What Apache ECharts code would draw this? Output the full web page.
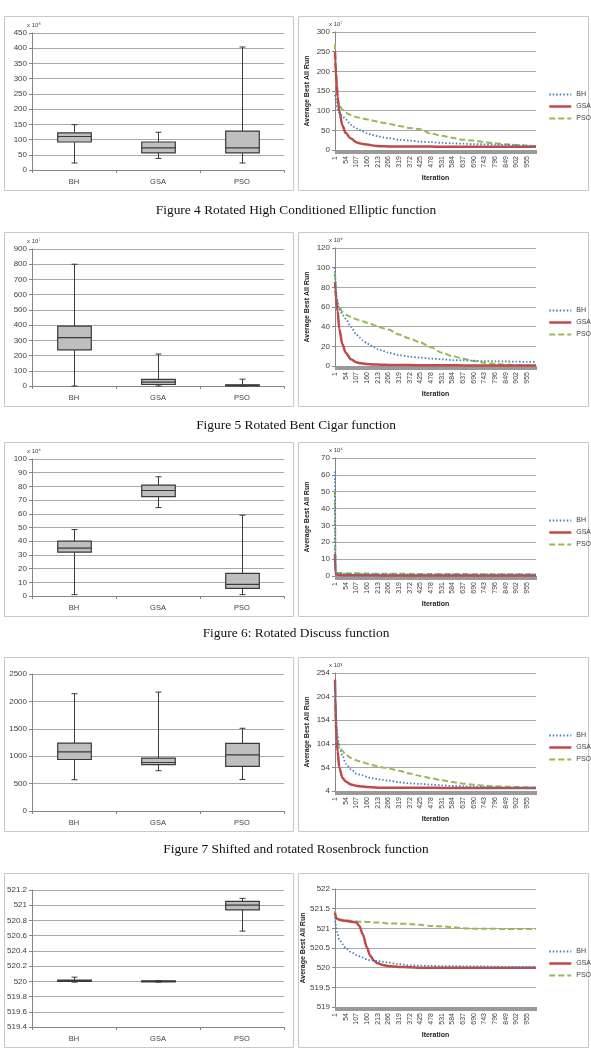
<!DOCTYPE html>
<html lang="en">
<head>
<meta charset="UTF-8" />
<script src="https://cdn.jsdelivr.net/npm/echarts@6/dist/echarts.min.js"></script>
<style>
  html, body { margin: 0; overflow: hidden; background: #fff; }
  #viewport { position: absolute; left: 0; top: 0; width: 591px; height: 1059px; }
</style>
</head>
<body>
<div id="viewport"></div>
<script>
// algorithms compared in every panel
var algos = ['BH', 'GSA', 'PSO'];

// box plot stats per algorithm: [min, q1, median, q3, max]
var boxElliptic = [[23, 92, 110, 122, 149], [38, 56, 73, 92, 124], [23, 56, 73, 128, 404]];
var boxCigar = [[0, 237, 318, 393, 800], [0, 10, 25, 43, 210], [0, 2, 4, 8, 45]];
var boxDiscuss = [[1, 32, 35, 40, 48.5], [64.5, 72.5, 77, 81, 87], [1, 5.5, 8.5, 16.5, 59]];
var boxRosen = [[570, 940, 1080, 1240, 2140], [735, 845, 885, 965, 2170], [575, 815, 1025, 1235, 1510]];
var boxShifted = [[519.99, 520.0, 520.01, 520.015, 520.055], [519.99, 519.995, 520.0, 520.005, 520.01], [520.66, 520.94, 521.0, 521.05, 521.09]];

var iters = [1, 3, 6, 10, 14, 22, 38, 54, 80, 107, 122, 139, 160, 176, 196, 213, 239, 266, 319, 372, 425, 478, 531, 584, 637, 690, 743, 796, 849, 902, 955, 1000];

var ellipticBH = [140, 130, 120, 110, 103, 95, 86, 78, 64, 55, 51, 47, 43, 40, 37, 35, 32, 30, 26, 24, 21, 20, 18, 17, 16, 15, 14.5, 13.6, 13, 12, 11, 10];
var ellipticGSA = [250, 225, 195, 165, 135, 100, 62, 43, 29, 20, 17, 15.5, 14, 12.5, 11, 10, 9.5, 9, 9, 8.8, 8.7, 8.6, 8.5, 8.5, 8.4, 8.3, 8.3, 8.2, 8.2, 8.1, 8, 8];
var ellipticPSO = [270, 215, 170, 140, 125, 115, 103, 95, 89, 84, 82, 80, 78, 76, 74, 72, 69, 67, 61, 56, 53, 42, 36, 31, 26, 24, 20, 17, 14.5, 13, 11, 10];

var cigarBH = [100, 88, 78, 70, 64, 58, 52, 48, 40, 32, 29, 26, 23, 21, 19, 17, 15.5, 13.6, 11, 9.5, 8.5, 7.5, 6.8, 6, 5.8, 5.4, 5, 4.8, 4.6, 4.4, 4.2, 4];
var cigarGSA = [85, 78, 70, 62, 56, 38, 22, 13.6, 6.8, 3.7, 3, 2.5, 2, 1.7, 1.5, 1.4, 1.2, 1.1, 1, 0.9, 0.8, 0.8, 0.7, 0.7, 0.6, 0.6, 0.6, 0.5, 0.5, 0.5, 0.5, 0.5];
var cigarPSO = [95, 80, 72, 67, 64, 60, 55, 52, 50, 47.6, 46.5, 45.5, 44, 43, 41.5, 40, 38.5, 37, 32, 28, 24, 19, 13.6, 10, 7.5, 5, 3.4, 2, 1.4, 1, 0.7, 0.5];

var discussBH = [62, 5, 2.2, 1.8, 1.6, 1.5, 1.4, 1.3, 1.3, 1.2, 1.2, 1.2, 1.2, 1.1, 1.1, 1.1, 1.1, 1.1, 1, 1, 1, 1, 1, 1, 1, 0.9, 0.9, 0.9, 0.9, 0.9, 0.9, 0.9];
var discussGSA = [13, 2, 1, 0.8, 0.7, 0.6, 0.5, 0.5, 0.5, 0.4, 0.4, 0.4, 0.4, 0.4, 0.4, 0.4, 0.3, 0.3, 0.3, 0.3, 0.3, 0.3, 0.3, 0.3, 0.3, 0.3, 0.3, 0.3, 0.3, 0.3, 0.3, 0.3];
var discussPSO = [50, 4, 2.5, 2, 1.9, 1.8, 1.8, 1.7, 1.7, 1.7, 1.6, 1.6, 1.5, 1.5, 1.4, 1.4, 1.4, 1.3, 1.3, 1.3, 1.2, 1.2, 1.2, 1.2, 1.2, 1.1, 1.1, 1.1, 1.1, 1.1, 1.1, 1.1];

var rosenBH = [230, 200, 170, 140, 120, 96, 79, 62, 50, 41, 39, 37, 34, 32, 30, 29, 27.5, 26, 22.5, 20, 19, 17.5, 16, 14.6, 14, 13, 12.5, 11.8, 11, 10.4, 10.2, 9.7];
var rosenGSA = [240, 200, 146, 110, 89, 54, 32, 24, 18, 15, 14, 13.5, 12.5, 12, 11.5, 11, 11, 11, 10.8, 10.8, 10.7, 10.7, 10.6, 10.6, 10.5, 10.5, 10.4, 10.4, 10.3, 10.3, 10.2, 10.2];
var rosenPSO = [225, 160, 125, 115, 110, 100, 89, 81, 74, 69, 67, 65, 62, 60, 58, 56, 54, 52, 47, 41, 36, 31, 27, 23, 19.6, 17.5, 15.4, 14, 13, 12.5, 11.8, 11];

var shiftedBH = [521.28, 521.15, 521.02, 520.92, 520.85, 520.72, 520.6, 520.5, 520.4, 520.32, 520.29, 520.26, 520.21, 520.19, 520.18, 520.17, 520.15, 520.13, 520.09, 520.06, 520.05, 520.045, 520.04, 520.04, 520.035, 520.03, 520.03, 520.025, 520.02, 520.02, 520.02, 520.02];
var shiftedGSA = [521.4, 521.33, 521.28, 521.25, 521.24, 521.22, 521.2, 521.19, 521.17, 521.15, 521.06, 520.85, 520.51, 520.3, 520.17, 520.11, 520.07, 520.04, 520.02, 520.01, 520, 520, 520, 520, 520, 520, 520, 520, 520, 520, 520, 520];
var shiftedPSO = [521.45, 521.33, 521.28, 521.26, 521.24, 521.23, 521.22, 521.21, 521.19, 521.18, 521.17, 521.17, 521.16, 521.16, 521.15, 521.15, 521.14, 521.12, 521.12, 521.11, 521.09, 521.06, 521.05, 521.03, 521.0, 520.99, 520.99, 520.99, 520.98, 520.98, 520.98, 520.98];

var captions = [
  'Figure 4 Rotated High Conditioned Elliptic function',
  'Figure 5 Rotated Bent Cigar function',
  'Figure 6: Rotated Discuss function',
  'Figure 7 Shifted and rotated Rosenbrock function'
];

var rows = [
  { box: boxElliptic, boxAxis: [0, 450, 50], boxExp: 'x 10\u2078', lines: [ellipticBH, ellipticGSA, ellipticPSO], lineAxis: [0, 300, 50], lineExp: 'x 10\u2077' },
  { box: boxCigar, boxAxis: [0, 900, 100], boxExp: 'x 10\u2077', lines: [cigarBH, cigarGSA, cigarPSO], lineAxis: [0, 120, 20], lineExp: 'x 10\u2079' },
  { box: boxDiscuss, boxAxis: [0, 100, 10], boxExp: 'x 10\u2074', lines: [discussBH, discussGSA, discussPSO], lineAxis: [0, 70, 10], lineExp: 'x 10\u2074' },
  { box: boxRosen, boxAxis: [0, 2500, 500], boxExp: '', lines: [rosenBH, rosenGSA, rosenPSO], lineAxis: [4, 254, 50], lineExp: 'x 10\u00b3' },
  { box: boxShifted, boxAxis: [519.4, 521.2, 0.2], boxExp: '', lines: [shiftedBH, shiftedGSA, shiftedPSO], lineAxis: [519, 522, 0.5], lineExp: '' }
];

var rowTops = [16, 232, 442, 657, 873];
var captionY = [210, 425, 633, 849];

var FONT = '"Liberation Sans", Arial, sans-serif';
var TXT = '#404040';
var GRID_LINE = '#a8a8a8';
var AXIS_LINE = '#868686';

var lineStyles = [
  { color: '#4a7ebb', width: 1.8, type: [1.5, 2] },
  { color: '#be4b48', width: 2.5, type: 'solid' },
  { color: '#98b954', width: 2, type: [6, 3] }
];

var iterCats = [];
for (var i = 1; i <= 1000; i++) iterCats.push(String(i));

function fmt(v) {
  return String(+v.toFixed(2));
}

function renderBox(params, api) {
  var idx = api.value(0);
  var lo = api.coord([idx, api.value(1)]);
  var q1 = api.coord([idx, api.value(2)]);
  var md = api.coord([idx, api.value(3)]);
  var q3 = api.coord([idx, api.value(4)]);
  var hi = api.coord([idx, api.value(5)]);
  var bw = api.size([1, 0])[0] * 0.4;
  var cx = Math.round(lo[0]) + 0.5;
  var st = { stroke: '#3a3a3a', lineWidth: 1 };
  return {
    type: 'group',
    children: [
      { type: 'line', shape: { x1: cx, y1: hi[1], x2: cx, y2: lo[1] }, style: st },
      { type: 'line', shape: { x1: cx - 3, y1: hi[1], x2: cx + 3, y2: hi[1] }, style: st },
      { type: 'line', shape: { x1: cx - 3, y1: lo[1], x2: cx + 3, y2: lo[1] }, style: st },
      {
        type: 'rect',
        shape: { x: cx - bw / 2, y: q3[1], width: bw, height: Math.max(q1[1] - q3[1], 1) },
        style: { fill: '#bfbfbf', stroke: '#3a3a3a', lineWidth: 1.2 }
      },
      { type: 'line', shape: { x1: cx - bw / 2, y1: md[1], x2: cx + bw / 2, y2: md[1] }, style: { stroke: '#3a3a3a', lineWidth: 1.2 } }
    ]
  };
}

var grids = [], xAxes = [], yAxes = [], series = [], legends = [], graphics = [];

rows.forEach(function (row, r) {
  var top = rowTops[r];
  var gl = 2 * r, gr = 2 * r + 1;

  // chart frames
  graphics.push({ type: 'rect', silent: true, shape: { x: 4.5, y: top + 0.5, width: 289, height: 174 }, style: { fill: 'none', stroke: '#c8c8c8', lineWidth: 1 } });
  graphics.push({ type: 'rect', silent: true, shape: { x: 298.5, y: top + 0.5, width: 290, height: 174 }, style: { fill: 'none', stroke: '#c8c8c8', lineWidth: 1 } });

  if (row.boxExp) {
    graphics.push({ type: 'text', silent: true, style: { text: row.boxExp, x: 27, y: top + 9, verticalAlign: 'middle', font: '6px ' + FONT, fill: TXT } });
  }
  if (row.lineExp) {
    graphics.push({ type: 'text', silent: true, style: { text: row.lineExp, x: 329, y: top + 8, verticalAlign: 'middle', font: '6px ' + FONT, fill: TXT } });
  }

  // left: box plot
  grids.push({ left: 32, top: top + 17, width: 252, height: 137, outerBoundsMode: 'none' });
  xAxes.push({
    gridIndex: gl, type: 'category', data: algos,
    axisLine: { lineStyle: { color: AXIS_LINE } },
    axisTick: { show: true, length: 3, lineStyle: { color: AXIS_LINE } },
    axisLabel: { fontSize: 7.5, color: TXT, fontFamily: FONT, margin: 8 }
  });
  yAxes.push({
    gridIndex: gl, type: 'value', min: row.boxAxis[0], max: row.boxAxis[1], interval: row.boxAxis[2],
    axisLine: { show: true, lineStyle: { color: AXIS_LINE } },
    axisTick: { show: true, length: 3, lineStyle: { color: AXIS_LINE } },
    splitLine: { lineStyle: { color: GRID_LINE } },
    axisLabel: { fontSize: 8, color: TXT, fontFamily: FONT, margin: 5, formatter: fmt }
  });
  series.push({
    type: 'custom', xAxisIndex: gl, yAxisIndex: gl,
    renderItem: renderBox,
    encode: { x: 0, y: [1, 2, 3, 4, 5] },
    data: row.box.map(function (d, k) { return [k].concat(d); }),
    silent: true
  });

  // right: convergence curves
  grids.push({ left: 335, top: top + 16, width: 201, height: 118, outerBoundsMode: 'none' });
  xAxes.push({
    gridIndex: gr, type: 'category', data: iterCats, boundaryGap: false,
    name: 'Iteration', nameLocation: 'middle', nameGap: 25,
    nameTextStyle: { fontSize: 7, fontWeight: 'bold', color: '#222', fontFamily: FONT },
    axisLine: { lineStyle: { color: AXIS_LINE } },
    axisTick: { show: true, interval: 0, length: 4, lineStyle: { color: '#9a9a9a' } },
    axisLabel: { interval: 52, rotate: 90, fontSize: 7, color: TXT, fontFamily: FONT, margin: 6 }
  });
  yAxes.push({
    gridIndex: gr, type: 'value', min: row.lineAxis[0], max: row.lineAxis[1], interval: row.lineAxis[2],
    name: 'Average Best All Run', nameLocation: 'middle', nameGap: 24, nameRotate: 90,
    nameTextStyle: { fontSize: 7, fontWeight: 'bold', color: '#222', fontFamily: FONT },
    axisLine: { show: true, lineStyle: { color: AXIS_LINE } },
    axisTick: { show: true, length: 3, lineStyle: { color: AXIS_LINE } },
    splitLine: { lineStyle: { color: GRID_LINE } },
    axisLabel: { fontSize: 8, color: TXT, fontFamily: FONT, margin: 5, formatter: fmt }
  });
  row.lines.forEach(function (vals, s) {
    series.push({
      type: 'line', name: algos[s], xAxisIndex: gr, yAxisIndex: gr,
      symbol: 'none', smooth: 0.3, smoothMonotone: 'x',
      lineStyle: lineStyles[s], itemStyle: { color: lineStyles[s].color },
      data: iters.map(function (it, k) { return [it - 1, vals[k]]; }),
      z: 3 - s
    });
  });
  legends.push({
    orient: 'vertical', left: 543, top: top + 70,
    itemWidth: 22, itemHeight: 8, itemGap: 5, selectedMode: false,
    data: algos.map(function (a, s) {
      return {
        name: a,
        itemStyle: { opacity: 0 },
        lineStyle: { color: lineStyles[s].color, width: lineStyles[s].width, type: lineStyles[s].type }
      };
    }),
    textStyle: { fontSize: 7, color: TXT, fontFamily: FONT }
  });
});

captions.forEach(function (c, k) {
  graphics.push({ type: 'text', silent: true, style: { text: c, x: 296, y: captionY[k], align: 'center', verticalAlign: 'middle', font: '13.4px "Liberation Serif", "Times New Roman", serif', fill: '#111' } });
});

var chart = echarts.init(document.getElementById('viewport'));
chart.setOption({
  animation: false,
  backgroundColor: '#fff',
  grid: grids,
  xAxis: xAxes,
  yAxis: yAxes,
  legend: legends,
  series: series,
  graphic: graphics
});
</script>
</body>
</html>
